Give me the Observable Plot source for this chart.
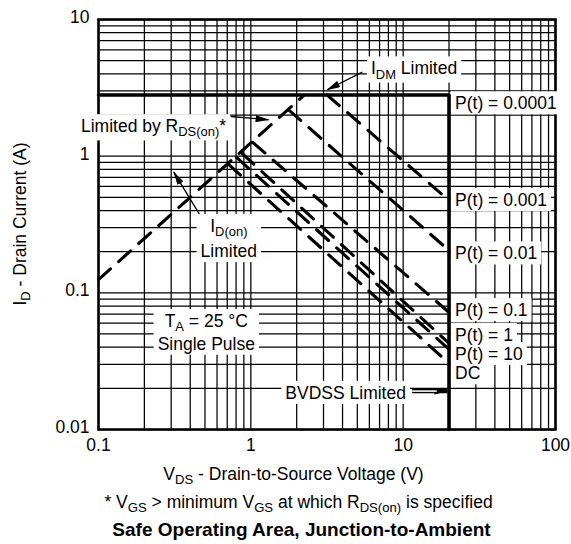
<!DOCTYPE html>
<html><head><meta charset="utf-8">
<script src="https://cdn.jsdelivr.net/npm/d3@7"></script>
<script src="https://cdn.jsdelivr.net/npm/@observablehq/plot@0.6"></script>
<style>
body{margin:0;background:#fff;font-family:"Liberation Sans",Arial,Helvetica,sans-serif;color:#000}
#wrap{width:571px;position:relative}
.cap{text-align:center;white-space:nowrap;font-size:17.5px;width:571px;position:relative}
.cap sub{font-size:75%;vertical-align:-0.3em;line-height:0}
#xlab{height:33px;line-height:33px;left:8px}
#foot{height:22px;line-height:22px;left:13px}
#title{height:34px;line-height:34px;font-weight:bold;font-size:19px;left:16px}
svg{display:block}
</style></head><body>
<div id="wrap"></div>
<div class="cap" id="xlab">V<sub>DS</sub> - Drain-to-Source Voltage (V)</div>
<div class="cap" id="foot">* V<sub>GS</sub> &gt; minimum V<sub>GS</sub> at which R<sub>DS(on)</sub> is specified</div>
<div class="cap" id="title">Safe Operating Area, Junction-to-Ambient</div>
<script>
// ---------------- data ----------------
const xDomain = [0.1, 100];
const yDomain = [0.01, 10];
const xTickValues = [0.1, 1, 10, 100];
const xTickLabels = ["0.1", "1", "10", "100"];
const yTickValues = [0.01, 0.1, 1, 10];
const yTickLabels = ["0.01", "0.1", "1", "10"];
const yAxisLabel = "I_{D} - Drain Current (A)";

const idmLimit = 2.8;   // A
const bvdss = 20;       // V

// R_DS(on) limit line
const rdsV = [0.1, 2.24];
const rdsI = [0.125, 2.8];

// pulse lines (start on limit line, end at BVDSS)
const pulseNames  = ["0.001", "0.01", "0.1", "1", "10", "DC"];
const pulseStartV = [3.17, 1.77, 1.03, 0.875, 0.805, 0.714];
const pulseStartI = [2.8, 2.18, 1.26, 1.05, 0.98, 0.87];
const pulseEndI   = [0.474, 0.204, 0.0719, 0.0427, 0.0386, 0.0305];

// right-hand labels
const pLabelTexts = ["P(t) = 0.0001", "P(t) = 0.001", "P(t) = 0.01", "P(t) = 0.1", "P(t) = 1", "P(t) = 10", "DC"];
const pLabelI     = [2.42, 0.474, 0.193, 0.0743, 0.0488, 0.0354, 0.0256];

// annotations
const noteTexts = ["I_{DM} Limited", "Limited by R_{DS(on)}*", "I_{D(on)}\nLimited", "BVDSS Limited"];
const noteV     = [11.79, 0.2297, 0.717, 4.19];
const noteI     = [4.44, 1.677, 0.262, 0.01877];
const condText  = "T_{A} = 25 °C\nSingle Pulse";
const condV     = 0.51;
const condI     = 0.0525;

// arrows
const arrowFromV = [5.39, 0.736, 0.48, 11.47];
const arrowFromI = [4.12, 1.951, 0.348, 0.0191];
const arrowToV   = [3.17, 1.307, 0.312, 19.5];
const arrowToI   = [3.06, 1.846, 0.764, 0.0191];
const bvArrowInnerToV = 16.6;

// ---------------- build ----------------
const xGrid = [], yGrid = [];
for (let e = -1; e <= 1; e++) for (let m = 1; m <= 9; m++) xGrid.push(m * Math.pow(10, e));
xGrid.push(100);
for (let e = -2; e <= 0; e++) for (let m = 1; m <= 9; m++) yGrid.push(m * Math.pow(10, e));
yGrid.push(10);

const boundary = [
  {v: xDomain[0], i: idmLimit},
  {v: bvdss, i: idmLimit},
  {v: bvdss, i: yDomain[0]}
];
const rds = rdsV.map((v, k) => ({v, i: rdsI[k]}));
const pulses = [];
pulseNames.forEach((n, k) => {
  pulses.push({s: n, v: pulseStartV[k], i: pulseStartI[k]});
  pulses.push({s: n, v: bvdss, i: pulseEndI[k]});
});
const pLabels = pLabelTexts.map((t, k) => ({t, v: bvdss, i: pLabelI[k]}));
const notes = noteTexts.map((t, k) => ({t, v: noteV[k], i: noteI[k]}));
const cond = [{t: condText, v: condV, i: condI}];
const arrows = arrowFromV.map((v, k) => ({x1: v, y1: arrowFromI[k], x2: arrowToV[k], y2: arrowToI[k], w: k === 3 ? 4.2 : 1.3}));
const bvInner = [{x1: arrowFromV[3], y1: arrowFromI[3], x2: bvArrowInnerToV, y2: arrowToI[3]}];
const xTicks = xTickValues.map((v, k) => ({v, t: xTickLabels[k]}));
const yTicks = yTickValues.map((v, k) => ({v, t: yTickLabels[k]}));

const FS = 17.5;
const dash = {strokeWidth: 3.1, strokeDasharray: "16,11", strokeLinecap: "round"};

const chart = Plot.plot({
  width: 571,
  height: 458,
  marginLeft: 98,
  marginRight: 16,
  marginTop: 19,
  marginBottom: 29,
  style: {fontFamily: '"Liberation Sans", Arial, Helvetica, sans-serif', fontSize: FS + "px", background: "white", color: "black", overflow: "visible"},
  x: {type: "log", domain: xDomain, axis: null},
  y: {type: "log", domain: yDomain, axis: null},
  marks: [
    Plot.ruleX(xGrid, {stroke: "black", strokeWidth: 1.25, strokeOpacity: 1}),
    Plot.ruleY(yGrid, {stroke: "black", strokeWidth: 1.25, strokeOpacity: 1}),
    Plot.line(boundary, {x: "v", y: "i", stroke: "black", strokeWidth: 3.6}),
    Plot.line(rds, {x: "v", y: "i", stroke: "black", ...dash}),
    Plot.line(pulses, {x: "v", y: "i", z: "s", stroke: "black", ...dash}),
    Plot.frame({stroke: "black", strokeWidth: 2.6}),
    Plot.link(arrows, {x1: "x1", y1: "y1", x2: "x2", y2: "y2", stroke: "black", strokeWidth: "w", markerEnd: "arrow"}),
    Plot.link(bvInner, {x1: "x1", y1: "y1", x2: "x2", y2: "y2", stroke: "white", strokeWidth: 1.6}),
    Plot.text(pLabels, {x: "v", y: "i", text: "t", textAnchor: "start", dx: 6, fill: "black", fontSize: FS}),
    Plot.text(notes, {x: "v", y: "i", text: "t", textAnchor: "middle", lineHeight: 1.2, fill: "black", fontSize: FS}),
    Plot.text(cond, {x: "v", y: "i", text: "t", textAnchor: "middle", lineHeight: 1.3, fill: "black", fontSize: FS}),
    // tick labels (axes)
    Plot.text(xTicks, {x: "v", frameAnchor: "bottom", text: "t", lineAnchor: "top", dy: 9, fill: "black", fontSize: FS}),
    Plot.text(yTicks, {y: "v", frameAnchor: "left", text: "t", textAnchor: "end", dx: -9, dy: -2, fill: "black", fontSize: FS})
  ]
});
document.getElementById("wrap").appendChild(chart);

// ---------------- post-processing: subscripts, boxes, arrowheads ----------------
const NS = "http://www.w3.org/2000/svg";
function richify(el, fs) {
  const s = el.textContent;
  if (!s.includes("_{")) return;
  el.textContent = "";
  const shift = fs * 0.24;
  let shifted = false;
  s.split(/(_\{[^}]*\})/).forEach(p => {
    if (!p) return;
    const ts = document.createElementNS(NS, "tspan");
    if (p.startsWith("_{")) {
      ts.textContent = p.slice(2, -1);
      ts.setAttribute("font-size", fs * 0.74);
      ts.setAttribute("dy", shift);
      shifted = true;
    } else {
      ts.textContent = p;
      if (shifted) { ts.setAttribute("dy", -shift); shifted = false; }
    }
    el.appendChild(ts);
  });
}
function richifyAll(t, fs) {
  const kids = Array.from(t.children);
  if (kids.length) kids.forEach(k => richify(k, fs));
  else richify(t, fs);
}
const svg = chart.tagName.toLowerCase() === "svg" ? chart : chart.querySelector("svg");
// only the annotation text marks (first three text groups) get white boxes
const groups = Array.from(svg.querySelectorAll('g[aria-label="text"]')).slice(0, 3);
groups.forEach(g => {
  const texts = Array.from(g.querySelectorAll(":scope > text"));
  texts.forEach(t => richifyAll(t, FS));
  const rects = texts.map(t => {
    const b = t.getBBox();
    const r = document.createElementNS(NS, "rect");
    r.setAttribute("x", b.x - 4);
    r.setAttribute("y", b.y - 2);
    r.setAttribute("width", b.width + 8);
    r.setAttribute("height", b.height + 3);
    r.setAttribute("fill", "white");
    r.setAttribute("stroke", "none");
    const tr = t.getAttribute("transform");
    if (tr) r.setAttribute("transform", tr);
    return r;
  });
  rects.reverse().forEach(r => g.insertBefore(r, g.firstChild));
});

// filled arrowheads
let defs = svg.querySelector("defs");
if (!defs) { defs = document.createElementNS(NS, "defs"); svg.insertBefore(defs, svg.firstChild); }
const mk = document.createElementNS(NS, "marker");
mk.setAttribute("id", "triHead");
mk.setAttribute("viewBox", "0 0 14 7");
mk.setAttribute("refX", "13");
mk.setAttribute("refY", "3.5");
mk.setAttribute("markerWidth", "14");
mk.setAttribute("markerHeight", "7");
mk.setAttribute("markerUnits", "userSpaceOnUse");
mk.setAttribute("orient", "auto");
const mp = document.createElementNS(NS, "path");
mp.setAttribute("d", "M0,0L14,3.5L0,7Z");
mp.setAttribute("fill", "black");
mk.appendChild(mp);
defs.appendChild(mk);
svg.querySelectorAll("[marker-end]").forEach(p => p.setAttribute("marker-end", "url(#triHead)"));

// rotated y-axis label
const ylab = document.createElementNS(NS, "text");
ylab.setAttribute("transform", "translate(26,224) rotate(-90)");
ylab.setAttribute("text-anchor", "middle");
ylab.setAttribute("font-size", FS);
ylab.setAttribute("fill", "black");
ylab.textContent = yAxisLabel;
svg.appendChild(ylab);
richify(ylab, FS);
</script>
</body></html>
